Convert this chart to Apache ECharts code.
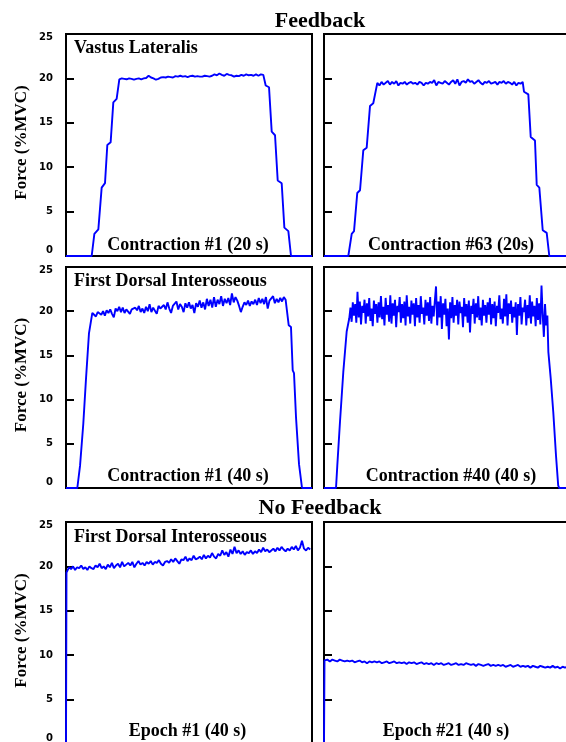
<!DOCTYPE html>
<html><head><meta charset="utf-8">
<script src="https://cdn.jsdelivr.net/npm/echarts@6/dist/echarts.min.js"></script>
<style>html,body{margin:0;padding:0;background:#fff}#c{width:566px;height:742px}</style>
</head><body><div id="c"></div>
<script>
// ---------- data (time in s, force in %MVC) ----------
const yTicks = [0, 5, 10, 15, 20, 25];
const titles = ['Feedback', 'No Feedback'];
const panelLabels = ['Contraction #1 (20 s)', 'Contraction #63 (20s)', 'Contraction #1 (40 s)', 'Contraction #40 (40 s)', 'Epoch #1 (40 s)', 'Epoch #21 (40 s)'];
const muscleLabels = ['Vastus Lateralis', 'First Dorsal Interosseous', 'First Dorsal Interosseous'];
const xMax = [34, 50, 40];

// Panel A: Vastus Lateralis, contraction #1
const riseA = [[0,0],[3.55,0],[3.92,2.5],[4.47,3.0],[4.93,7.7],[5.39,8.2],[5.71,12.5],[6.17,12.8],[6.54,17.3],[7.0,17.7]];
const holdSpanA = [7.37, 27.27];
const holdA = [19.9,20.0,19.95,19.9,20.0,19.95,19.85,19.95,20.0,19.9,
 20.0,20.05,20.3,20.1,20.0,19.85,19.95,20.1,20.15,20.1,
 20.2,20.15,20.1,20.25,20.2,20.3,20.2,20.25,20.15,20.25,
 20.3,20.2,20.25,20.2,20.2,20.3,20.25,20.2,20.3,20.45,
 20.35,20.55,20.4,20.3,20.5,20.4,20.35,20.2,20.3,20.25,
 20.4,20.3,20.45,20.35,20.4,20.3,20.45,20.3,20.45,20.4];
const fallA = [[27.6,19.2],[28.06,19.0],[28.43,14.0],[28.89,13.6],[29.26,8.5],[29.81,8.2],[30.18,3.2],[30.73,2.8],[31.1,0],[34,0]];

// Panel B: Vastus Lateralis, contraction #63
const riseB = [[0,0],[3.36,0],[3.83,2.5],[4.15,2.8],[4.6,7.1],[4.98,7.4],[5.43,11.9],[5.9,12.2],[6.36,16.9],[6.81,17.2]];
const holdSpanB = [7.37, 27.46];
const holdB = [19.5,19.2,19.6,19.3,19.5,19.7,19.3,19.6,19.4,19.7,
 19.2,19.5,19.4,19.6,19.3,19.5,19.6,19.4,19.5,19.3,
 19.6,19.5,19.2,19.5,19.4,19.6,19.5,19.8,19.2,19.6,
 19.5,19.4,19.7,19.5,19.3,19.6,19.8,19.4,19.9,19.2,
 19.6,19.7,19.5,19.9,19.6,19.7,19.4,19.6,19.8,19.5,
 19.3,19.6,19.5,19.7,19.4,19.5,19.6,19.3,19.6,19.5,
 19.7,19.4,19.6,19.5,19.3,19.6,19.2,19.5,19.4,19.6];
const fallB = [[27.64,18.5],[28.24,18.2],[28.57,13.4],[29.16,13.0],[29.4,8.0],[29.76,7.7],[30.23,2.9],[30.78,2.6],[31.14,0],[34,0]];

// Panel C: First Dorsal Interosseous, contraction #1
const riseC = [[0,0],[2.3,0],[2.85,2.5],[3.25,2.7],[3.52,7.3],[3.8,7.5],[4.07,12.4],[4.33,12.6],[4.67,17.5],[5.02,17.7]];
const holdSpanC = [5.35, 45.0];
const holdC = [19.8,20.0,19.4,19.9,20.1,19.6,20.0,19.5,20.1,19.8,
 20.2,19.7,19.3,20.3,20.0,20.5,19.9,20.4,19.8,20.2,
 20.1,19.7,20.2,20.0,20.4,20.1,20.6,19.9,20.3,19.8,
 20.5,20.0,20.8,19.9,20.4,20.2,19.7,20.6,20.3,20.1,
 20.7,20.2,21.0,20.3,19.8,20.6,20.4,21.1,20.2,20.8,
 20.5,19.9,20.9,20.4,21.0,20.3,20.7,19.8,20.9,20.5,
 21.2,20.4,21.0,20.2,21.4,20.6,21.3,20.4,21.6,20.5,
 21.3,20.8,21.7,20.6,21.4,20.9,21.5,20.7,22.0,21.0,
 21.6,21.2,20.6,19.9,20.5,21.0,20.7,21.2,20.6,21.1,
 20.8,21.3,20.7,21.5,20.9,21.4,20.8,21.6,20.3,21.2,
 21.0,21.7,20.9,21.4,21.0,21.5,21.1,21.6,21.3,21.5];
const fallC = [[45.27,18.4],[45.73,18.2],[46.08,13.3],[46.34,13.0],[46.75,8.0],[47.0,7.8],[47.36,2.7],[47.7,2.5],[47.97,0],[50,0]];

// Panel D: First Dorsal Interosseous, contraction #40
const riseD = [[0,0],[2.44,0],[2.7,2.5],[3.25,7.5],[3.92,13.1],[4.61,17.7]];
const holdSpanD = [5.14, 45.4];
const holdD = [19.2,20.4,18.8,21.0,19.5,20.8,18.7,22.2,19.3,21.1,
 18.5,20.6,19.8,21.3,18.6,20.9,19.4,21.5,18.9,20.3,
 18.3,21.2,19.7,20.8,18.7,21.0,19.3,21.7,19.1,20.5,
 18.4,21.5,19.6,20.7,18.8,21.8,18.6,20.9,19.5,21.3,
 18.2,20.6,19.9,21.6,18.7,20.8,19.2,21.1,18.4,21.8,
 19.4,20.5,18.6,21.2,19.6,20.9,18.3,21.5,19.3,20.7,
 18.7,21.7,19.7,20.4,18.5,21.3,19.5,21.0,18.9,21.6,
 18.6,20.6,19.4,21.2,22.8,18.4,21.1,19.3,21.7,18.0,
 20.9,19.6,21.4,18.3,20.3,16.8,21.0,19.2,21.6,18.7,
 20.7,19.5,21.3,18.5,21.1,19.8,20.5,18.2,21.5,19.4,
 20.8,18.7,21.2,17.6,20.6,19.7,21.4,18.6,20.9,19.3,
 21.7,19.0,20.4,18.4,21.3,19.5,20.7,18.7,21.0,19.6,
 21.5,18.5,20.8,19.2,21.1,18.3,20.6,19.8,21.8,19.1,
 20.3,18.6,21.4,19.4,21.9,18.4,20.9,19.7,21.2,18.7,
 20.5,19.3,21.0,17.3,20.8,19.5,21.6,18.5,20.4,19.9,
 21.3,18.4,20.7,19.2,21.8,18.6,21.1,19.4,20.6,18.3,
 21.5,19.0,20.9,18.5,22.9,19.6,17.1,20.8,18.4,19.5];
const fallD = [[45.6,15.4],[46.08,12.4],[46.6,8.6],[47.15,3.7],[47.6,0.3],[47.8,0],[50,0]];

// Panel E: No feedback, epoch #1
const riseE = [[0,0],[0.08,19.3]];
const holdSpanE = [0.15, 39.7];
const holdE = [19.5,19.9,19.7,20.0,19.6,19.9,19.8,20.1,19.7,19.9,
 19.6,20.0,19.8,19.7,20.1,19.9,20.3,19.8,20.0,19.7,
 20.2,19.9,20.4,19.8,20.1,20.3,19.9,20.5,20.0,20.2,
 20.4,20.1,20.5,19.9,20.3,20.6,20.2,20.4,20.1,20.5,
 20.3,20.6,20.2,20.5,20.4,20.7,20.3,20.1,20.5,20.6,
 20.4,20.8,20.5,20.9,20.6,20.3,20.8,20.7,21.1,20.6,
 20.9,20.7,21.2,20.8,20.9,21.1,20.8,21.3,20.9,21.2,
 21.0,21.5,21.1,20.9,21.4,21.2,21.8,21.3,21.6,21.1,
 21.9,21.4,22.2,21.5,21.8,21.4,21.7,21.3,21.6,21.5,
 21.8,21.4,21.7,21.5,21.9,21.6,22.1,21.7,21.9,21.6,
 21.8,22.0,21.7,22.1,21.8,22.2,21.9,21.7,22.0,21.8,
 22.2,21.9,22.3,21.8,22.1,22.9,22.0,21.8,22.1,21.9];
const fallE = [];

// Panel F: No feedback, epoch #21
const riseF = [[0,0],[0.08,9.4]];
const holdSpanF = [0.15, 40];
const holdF = [9.4,9.5,9.3,9.5,9.4,9.3,9.5,9.4,9.3,9.4,
 9.3,9.4,9.2,9.3,9.4,9.2,9.3,9.1,9.3,9.2,
 9.3,9.2,9.3,9.1,9.2,9.3,9.1,9.2,9.3,9.1,
 9.2,9.1,9.2,9.0,9.2,9.1,9.2,9.0,9.1,9.2,
 9.0,9.1,9.0,9.1,8.9,9.1,9.0,9.1,8.9,9.0,
 9.1,8.9,9.0,9.1,8.9,9.0,8.9,9.1,9.0,8.9,
 9.0,8.8,9.0,8.9,8.8,8.9,9.0,8.8,8.9,8.8,
 8.9,8.8,8.9,8.7,8.8,8.9,8.7,8.8,8.9,8.7,
 8.8,8.7,8.8,8.6,8.8,8.7,8.6,8.8,8.7,8.6,
 8.7,8.6,8.8,8.6,8.7,8.5,8.7,8.6,8.7,8.6];
const fallF = [];

// ---------- build ----------
function build(rise, hold, span, fall) {
  const n = hold.length;
  const h = hold.map((v, i) => [span[0] + i * (span[1] - span[0]) / (n - 1), v]);
  return rise.concat(h, fall);
}
const panels = [
  build(riseA, holdA, holdSpanA, fallA), build(riseB, holdB, holdSpanB, fallB),
  build(riseC, holdC, holdSpanC, fallC), build(riseD, holdD, holdSpanD, fallD),
  build(riseE, holdE, holdSpanE, fallE), build(riseF, holdF, holdSpanF, fallF)
];

const tops = [34, 267, 522], heights = [222, 221, 222], lefts = [66, 324], W = 246;
const serif = '"Liberation Serif","Times New Roman",serif';
const lbl = {fontFamily: '"DejaVu Sans"', fontWeight: 'bold', fontSize: 10, color: '#000'};
const grid = [], xAxis = [], yAxis = [], series = [];
panels.forEach((d, i) => {
  const r = Math.floor(i / 2), c = i % 2;
  grid.push({left: lefts[c], top: tops[r], width: W, height: heights[r], show: true,
    outerBoundsMode: 'none', containLabel: false,
    borderColor: '#000', borderWidth: 2, backgroundColor: 'transparent'});
  xAxis.push({type: 'value', gridIndex: i, min: 0, max: xMax[r],
    axisLine: {show: false}, axisTick: {show: false}, axisLabel: {show: false}, splitLine: {show: false}});
  yAxis.push({type: 'value', gridIndex: i, min: 0, max: 25, interval: 5,
    axisLine: {show: false}, splitLine: {show: false},
    axisTick: {show: true, inside: true, length: 8, lineStyle: {color: '#000', width: 2}},
    axisLabel: Object.assign({show: c === 0, margin: 13,
      formatter: v => v === 0 ? '{b|0}' : (v === 25 ? '{t|25}' : '{n|' + v + '}'),
      rich: {
        b: Object.assign({padding: [0, 0, 11, 0]}, lbl),
        t: Object.assign({padding: [7, 0, 0, 0]}, lbl),
        n: Object.assign({}, lbl)
      }}, lbl),
    name: c === 0 ? 'Force (%MVC)' : '', nameLocation: 'middle', nameRotate: 90, nameGap: 36,
    nameTextStyle: {fontFamily: serif, fontWeight: 'bold', fontSize: 17, color: '#000', padding: [0, 0, 0, 5]}});
  series.push({type: 'line', xAxisIndex: i, yAxisIndex: i, data: d, showSymbol: false, symbol: 'none',
    lineStyle: {color: '#0000ff', width: 1.9}, z: 3});
});

function txt(s, x, y, size, align) {
  return {type: 'text', x: x, y: y, z: 10,
    style: {text: s, font: 'bold ' + size + 'px ' + serif, fill: '#000', align: align || 'center', verticalAlign: 'middle'}};
}
const graphic = [
  txt(titles[0], 320, 21, 22), txt(titles[1], 320, 508, 22),
  txt(muscleLabels[0], 74, 48.5, 18, 'left'),
  txt(muscleLabels[1], 74, 281.5, 18, 'left'),
  txt(muscleLabels[2], 74, 537.5, 18, 'left'),
  txt(panelLabels[0], 188, 245, 18), txt(panelLabels[1], 451, 245, 18),
  txt(panelLabels[2], 188, 476, 18), txt(panelLabels[3], 451, 476, 18),
  txt(panelLabels[4], 187.5, 731.5, 18), txt(panelLabels[5], 446, 731.5, 18)
];

const chart = echarts.init(document.getElementById('c'), null, {renderer: 'canvas'});
chart.setOption({animation: false, backgroundColor: '#fff', grid, xAxis, yAxis, series, graphic});
</script></body></html>
